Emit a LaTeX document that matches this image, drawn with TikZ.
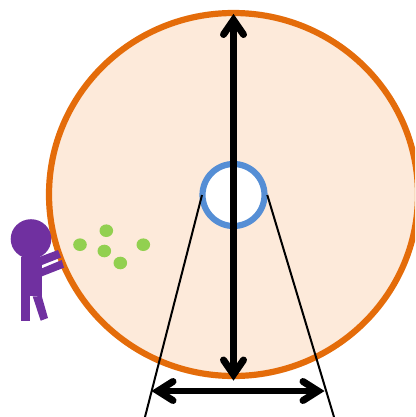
\documentclass[tikz,border=0pt]{standalone}
\definecolor{wheelfill}{HTML}{FDEADA}
\definecolor{wheeledge}{HTML}{E46C0A}
\definecolor{hubedge}{HTML}{558ED5}
\definecolor{dotgreen}{HTML}{92D050}
\definecolor{personpurple}{HTML}{7030A0}
\tikzset{
  wheel/.style={draw=wheeledge,fill=wheelfill,line width=6.2pt},
  hub/.style={draw=hubedge,fill=white,line width=6.2pt},
  dotmark/.style={fill=dotgreen},
  person/.style={fill=personpurple},
  thinline/.style={draw=black,line width=2pt},
  shaft/.style={draw=black,line width=6.2pt},
  hshaft/.style={draw=black,line width=5.5pt},
  chevron/.style={draw=black,line width=7pt,line cap=round,line join=miter,miter limit=10},
}
\begin{document}
\begin{tikzpicture}[x=1pt,y=-1pt]
\useasboundingbox (0,0) rectangle (415,417);
\clip (0,0) rectangle (415,417);
% wheel
\draw[wheel] (233.5,194.5) ellipse [x radius=184.5,y radius=181.5];
\draw[hub] (233.5,195) circle [radius=31];
% dots
\foreach \px/\py in {80/244.7,106.3/230.7,104.3/251,120.3/263,143.3/244.7}
  \fill[dotmark] (\px,\py) ellipse [x radius=6.8,y radius=6.3];
% person
\fill[person] (31,239) ellipse [x radius=20.3,y radius=19.8];
\fill[person] (21,257) rectangle (42,296);
\fill[person] (21,296) rectangle (29.5,320.7);
\fill[person] (32.7,296.5) -- (41.7,296) -- (48,318) -- (40.7,320.7) -- cycle;
\fill[person] (38,257.5) -- (58,250) -- (61,257.5) -- (42,265) -- cycle;
\fill[person] (42,268.3) -- (61.7,260) -- (64,267.7) -- (42,276.3) -- cycle;
% sight lines
\coordinate (hubL) at (202,195);
\coordinate (hubR) at (267.3,195);
\coordinate (baseL) at (145,417);
\coordinate (baseR) at (334,417);
\draw[thinline] (hubL) -- (baseL);
\draw[thinline] (hubR) -- (baseR);
% vertical arrow
\coordinate (vtop) at (233.5,20);
\coordinate (vbot) at (233.5,374.5);
\draw[shaft] (vtop) -- (vbot);
\draw[chevron] (223.5,34.5) -- (vtop) -- (243.5,34.5);
\draw[chevron] (223.5,360) -- (vbot) -- (243.5,360);
% horizontal arrow
\coordinate (hleft) at (158,391);
\coordinate (hright) at (318,391);
\draw[hshaft] (hleft) -- (hright);
\draw[chevron] (173,381.5) -- (hleft) -- (173,400.5);
\draw[chevron] (303,381.5) -- (hright) -- (303,400.5);
\end{tikzpicture}
\end{document}
